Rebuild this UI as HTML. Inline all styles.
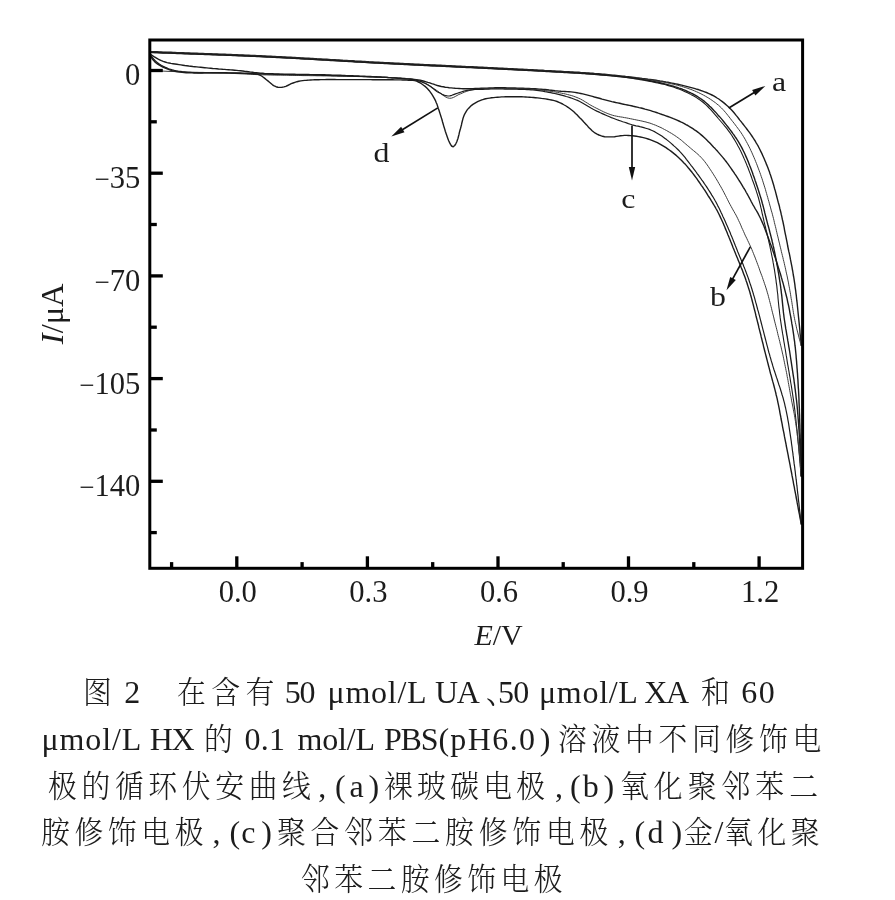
<!DOCTYPE html>
<html lang="zh"><head><meta charset="utf-8"><title>图 2</title>
<style>
html,body{margin:0;padding:0;background:#fff;}
html{filter:grayscale(1);}
body{width:895px;height:900px;position:relative;overflow:hidden;}
.ln{position:absolute;left:0;width:895px;height:46px;}
.s{position:absolute;top:0;white-space:nowrap;font-family:"Liberation Serif","Noto Serif CJK SC",serif;font-size:32px;line-height:46px;color:#1c1c1c;}
.s i{font-style:normal;font-size:31px;line-height:0;display:inline-block;transform:scaleX(0.93);transform-origin:0 50%;font-weight:300;}
</style></head><body>
<svg width="895" height="900" viewBox="0 0 895 900" style="position:absolute;left:0;top:0">
<defs><clipPath id="pc"><rect x="149.8" y="40.0" width="653.8" height="528.3"/></clipPath></defs>
<g fill="none" stroke="#1c1c1c" stroke-linecap="round" stroke-linejoin="round" clip-path="url(#pc)">
<path d="M151.0 51.6L153.0 51.7L155.0 51.8L157.0 51.8L159.0 51.9L161.0 52.0L163.0 52.1L165.0 52.1L167.0 52.2L169.0 52.3L171.0 52.3L173.0 52.4L175.0 52.5L177.0 52.6L179.0 52.6L181.0 52.7L183.0 52.8L185.0 52.9L187.0 52.9L189.0 53.0L191.0 53.1L193.0 53.1L195.0 53.2L197.0 53.3L199.0 53.4L201.0 53.4L203.0 53.5L205.0 53.6L207.0 53.6L209.0 53.7L211.0 53.8L213.0 53.9L215.0 53.9L217.0 54.0L219.0 54.1L221.0 54.2L223.0 54.2L225.0 54.3L226.9 54.4L228.9 54.5L230.9 54.5L232.9 54.6L234.9 54.7L236.9 54.8L238.9 54.9L240.9 54.9L242.9 55.0L244.9 55.1L246.9 55.2L248.9 55.3L250.9 55.4L252.9 55.5L254.9 55.5L256.9 55.6L258.9 55.7L260.9 55.8L262.9 55.9L264.9 56.0L266.9 56.1L268.9 56.2L270.9 56.3L272.9 56.4L274.9 56.5L276.9 56.6L278.9 56.7L280.9 56.8L282.9 56.9L284.9 57.0L286.9 57.1L288.9 57.2L290.9 57.3L292.9 57.4L294.9 57.5L296.9 57.6L298.9 57.7L300.9 57.9L302.9 58.0L304.9 58.1L306.9 58.2L308.9 58.3L310.9 58.4L312.8 58.5L314.8 58.6L316.8 58.8L318.8 58.9L320.8 59.0L322.8 59.1L324.8 59.2L326.8 59.3L328.8 59.4L330.8 59.6L332.8 59.7L334.8 59.8L336.8 59.9L338.8 60.0L340.8 60.1L342.8 60.3L344.8 60.4L346.8 60.5L348.8 60.6L350.8 60.7L352.8 60.8L354.8 61.0L356.8 61.1L358.8 61.2L360.8 61.3L362.8 61.4L364.8 61.5L366.8 61.6L368.8 61.8L370.8 61.9L372.7 62.0L374.7 62.1L376.7 62.2L378.7 62.3L380.7 62.4L382.7 62.5L384.7 62.6L386.7 62.7L388.7 62.8L390.7 62.9L392.7 63.0L394.7 63.1L396.7 63.2L398.7 63.3L400.7 63.4L402.7 63.5L404.7 63.6L406.7 63.7L408.7 63.8L410.7 63.9L412.7 64.0L414.7 64.1L416.7 64.2L418.7 64.3L420.7 64.4L422.7 64.5L424.7 64.6L426.7 64.7L428.7 64.8L430.7 64.9L432.7 65.0L434.7 65.0L436.7 65.1L438.7 65.2L440.7 65.3L442.7 65.4L444.7 65.5L446.7 65.6L448.7 65.7L450.7 65.8L452.7 65.9L454.7 66.0L456.6 66.1L458.6 66.2L460.6 66.3L462.6 66.4L464.6 66.5L466.6 66.6L468.6 66.6L470.6 66.7L472.6 66.8L474.6 66.9L476.6 67.0L478.6 67.1L480.6 67.2L482.6 67.3L484.6 67.4L486.6 67.5L488.6 67.6L490.6 67.7L492.6 67.8L494.6 67.9L496.6 68.0L498.6 68.1L500.6 68.2L502.6 68.3L504.6 68.4L506.6 68.5L508.6 68.6L510.6 68.7L512.6 68.8L514.6 68.9L516.6 69.0L518.6 69.1L520.6 69.2L522.6 69.3L524.6 69.4L526.6 69.5L528.6 69.6L530.6 69.7L532.6 69.8L534.6 69.9L536.6 70.0L538.5 70.1L540.5 70.2L542.5 70.3L544.5 70.5L546.5 70.6L548.5 70.7L550.5 70.8L552.5 70.9L554.5 71.0L556.5 71.1L558.5 71.2L560.5 71.3L562.5 71.4L564.5 71.6L566.5 71.7L568.5 71.8L570.5 71.9L572.5 72.0L574.5 72.1L576.5 72.2L578.5 72.3L580.5 72.5L582.5 72.6L584.5 72.7L586.5 72.9L588.5 73.0L590.5 73.2L592.5 73.3L594.4 73.5L596.4 73.6L598.4 73.8L600.4 74.0L602.4 74.2L604.4 74.3L606.4 74.5L608.4 74.7L610.4 74.9L612.4 75.1L614.4 75.3L616.4 75.5L618.3 75.7L620.3 75.9L622.3 76.1L624.3 76.3L626.3 76.6L628.3 76.8L630.3 77.0L632.3 77.2L634.2 77.4L636.2 77.7L638.2 77.9L640.2 78.1L642.2 78.4L644.2 78.6L646.2 78.9L648.1 79.2L650.1 79.4L652.1 79.7L654.1 80.0L656.1 80.3L658.0 80.6L660.0 81.0L662.0 81.3L663.9 81.6L665.9 82.0L667.9 82.3L669.8 82.7L671.8 83.1L673.8 83.5L675.7 83.9L677.7 84.3L679.6 84.7L681.6 85.1L683.5 85.6L685.5 86.1L687.4 86.6L689.4 87.1L691.3 87.6L693.2 88.1L695.1 88.7L697.0 89.3L699.0 89.8L700.9 90.5L702.7 91.1L704.6 91.8L706.5 92.5L708.3 93.3L710.1 94.1L711.9 95.0L713.7 95.9L715.4 96.9L717.1 98.0L718.8 99.0L720.4 100.2L722.0 101.4L723.6 102.6L725.1 103.9L726.6 105.2L728.1 106.5L729.5 107.9L730.9 109.3L732.3 110.8L733.6 112.3L734.9 113.8L736.1 115.4L737.4 116.9L738.6 118.5L739.8 120.1L741.1 121.6L742.3 123.2L743.6 124.8L744.8 126.4L746.0 127.9L747.2 129.5L748.4 131.1L749.6 132.7L750.8 134.4L751.9 136.0L753.0 137.7L754.1 139.3L755.2 141.0L756.2 142.8L757.2 144.5L758.2 146.2L759.1 148.0L760.0 149.8L760.9 151.6L761.8 153.4L762.6 155.2L763.4 157.0L764.2 158.8L765.0 160.7L765.8 162.5L766.5 164.4L767.3 166.2L768.0 168.1L768.7 170.0L769.4 171.8L770.0 173.7L770.7 175.6L771.3 177.5L771.9 179.4L772.5 181.3L773.1 183.2L773.7 185.2L774.2 187.1L774.7 189.0L775.3 190.9L775.8 192.9L776.3 194.8L776.8 196.7L777.3 198.7L777.8 200.6L778.3 202.5L778.9 204.5L779.4 206.4L779.8 208.4L780.3 210.3L780.8 212.2L781.2 214.2L781.7 216.1L782.1 218.1L782.5 220.0L783.0 222.0L783.4 224.0L783.8 225.9L784.2 227.9L784.5 229.8L784.9 231.8L785.3 233.8L785.7 235.7L786.1 237.7L786.5 239.6L786.9 241.6L787.3 243.6L787.6 245.5L788.0 247.5L788.4 249.5L788.8 251.4L789.3 253.4L789.7 255.3L790.1 257.3L790.4 259.2L790.8 261.2L791.2 263.2L791.6 265.1L792.0 267.1L792.3 269.1L792.7 271.0L793.0 273.0L793.3 275.0L793.7 277.0L794.0 278.9L794.3 280.9L794.6 282.9L794.9 284.9L795.1 286.8L795.4 288.8L795.7 290.8L795.9 292.8L796.2 294.8L796.4 296.8L796.6 298.8L796.8 300.7L797.1 302.7L797.3 304.7L797.5 306.7L797.7 308.7L797.9 310.7L798.1 312.7L798.3 314.7L798.5 316.7L798.7 318.6L798.9 320.6L799.1 322.6L799.3 324.6L799.5 326.6L799.7 328.6L799.9 330.6L800.0 332.6L800.2 334.6L800.4 336.6L800.6 338.6L800.8 340.5L800.9 342.5L801.1 344.5L801.2 345.5" stroke-width="1.4"/>
<path d="M151.0 51.9L153.0 52.0L155.0 52.1L157.0 52.1L159.0 52.2L161.0 52.3L163.0 52.4L165.0 52.4L167.0 52.5L169.0 52.6L171.0 52.6L173.0 52.7L175.0 52.8L177.0 52.9L179.0 52.9L181.0 53.0L183.0 53.1L185.0 53.2L187.0 53.2L189.0 53.3L191.0 53.4L193.0 53.4L195.0 53.5L197.0 53.6L199.0 53.7L201.0 53.7L203.0 53.8L205.0 53.9L207.0 53.9L209.0 54.0L211.0 54.1L213.0 54.2L215.0 54.2L217.0 54.3L219.0 54.4L221.0 54.5L223.0 54.5L225.0 54.6L226.9 54.7L228.9 54.8L230.9 54.8L232.9 54.9L234.9 55.0L236.9 55.1L238.9 55.2L240.9 55.2L242.9 55.3L244.9 55.4L246.9 55.5L248.9 55.6L250.9 55.7L252.9 55.8L254.9 55.8L256.9 55.9L258.9 56.0L260.9 56.1L262.9 56.2L264.9 56.3L266.9 56.4L268.9 56.5L270.9 56.6L272.9 56.7L274.9 56.8L276.9 56.9L278.9 57.0L280.9 57.1L282.9 57.2L284.9 57.3L286.9 57.4L288.9 57.5L290.9 57.6L292.9 57.7L294.9 57.8L296.9 57.9L298.9 58.0L300.9 58.2L302.9 58.3L304.9 58.4L306.9 58.5L308.9 58.6L310.9 58.7L312.8 58.8L314.8 58.9L316.8 59.1L318.8 59.2L320.8 59.3L322.8 59.4L324.8 59.5L326.8 59.6L328.8 59.7L330.8 59.9L332.8 60.0L334.8 60.1L336.8 60.2L338.8 60.3L340.8 60.4L342.8 60.6L344.8 60.7L346.8 60.8L348.8 60.9L350.8 61.0L352.8 61.1L354.8 61.3L356.8 61.4L358.8 61.5L360.8 61.6L362.8 61.7L364.8 61.8L366.8 61.9L368.8 62.1L370.8 62.2L372.7 62.3L374.7 62.4L376.7 62.5L378.7 62.6L380.7 62.7L382.7 62.8L384.7 62.9L386.7 63.0L388.7 63.1L390.7 63.2L392.7 63.3L394.7 63.4L396.7 63.5L398.7 63.6L400.7 63.7L402.7 63.8L404.7 63.9L406.7 64.0L408.7 64.1L410.7 64.2L412.7 64.3L414.7 64.4L416.7 64.5L418.7 64.6L420.7 64.7L422.7 64.8L424.7 64.9L426.7 65.0L428.7 65.1L430.7 65.2L432.7 65.3L434.7 65.3L436.7 65.4L438.7 65.5L440.7 65.6L442.7 65.7L444.7 65.8L446.7 65.9L448.7 66.0L450.7 66.1L452.7 66.2L454.7 66.3L456.6 66.4L458.6 66.5L460.6 66.6L462.6 66.7L464.6 66.8L466.6 66.9L468.6 66.9L470.6 67.0L472.6 67.1L474.6 67.2L476.6 67.3L478.6 67.4L480.6 67.5L482.6 67.6L484.6 67.7L486.6 67.8L488.6 67.9L490.6 68.0L492.6 68.1L494.6 68.2L496.6 68.3L498.6 68.4L500.6 68.5L502.6 68.6L504.6 68.7L506.6 68.8L508.6 68.9L510.6 69.0L512.6 69.1L514.6 69.2L516.6 69.3L518.6 69.4L520.6 69.5L522.6 69.6L524.6 69.7L526.6 69.8L528.6 69.9L530.6 70.0L532.6 70.1L534.6 70.2L536.6 70.3L538.5 70.4L540.5 70.5L542.5 70.6L544.5 70.8L546.5 70.9L548.5 71.0L550.5 71.1L552.5 71.2L554.5 71.3L556.5 71.4L558.5 71.5L560.5 71.6L562.5 71.7L564.5 71.9L566.5 72.0L568.5 72.1L570.5 72.2L572.5 72.3L574.5 72.4L576.5 72.5L578.5 72.6L580.5 72.8L582.5 72.9L584.5 73.0L586.5 73.2L588.5 73.3L590.5 73.5L592.5 73.6L594.4 73.8L596.4 73.9L598.4 74.1L600.4 74.3L602.4 74.5L604.4 74.6L606.4 74.8L608.4 75.0L610.4 75.2L612.4 75.4L614.4 75.6L616.4 75.8L618.3 76.0L620.3 76.2L622.3 76.4L624.3 76.6L626.3 76.9L628.3 77.1L630.3 77.3L632.3 77.5L634.2 77.8L636.2 78.0L638.2 78.3L640.2 78.5L642.2 78.8L644.2 79.1L646.1 79.3L648.1 79.6L650.1 79.9L652.1 80.2L654.1 80.5L656.0 80.9L658.0 81.2L660.0 81.5L661.9 81.9L663.9 82.2L665.9 82.6L667.8 83.0L669.8 83.4L671.7 83.9L673.7 84.3L675.6 84.8L677.6 85.3L679.5 85.8L681.4 86.3L683.3 86.9L685.2 87.5L687.1 88.1L689.0 88.8L690.9 89.4L692.8 90.2L694.6 90.9L696.4 91.7L698.3 92.5L700.1 93.4L701.9 94.3L703.6 95.2L705.4 96.2L707.1 97.2L708.8 98.2L710.5 99.3L712.1 100.4L713.8 101.6L715.4 102.7L716.9 104.0L718.5 105.2L720.0 106.6L721.4 107.9L722.8 109.4L724.1 110.8L725.4 112.3L726.7 113.9L727.9 115.4L729.2 117.0L730.4 118.6L731.6 120.2L732.8 121.7L734.1 123.3L735.3 124.9L736.5 126.5L737.7 128.1L738.9 129.7L740.1 131.3L741.2 132.9L742.3 134.6L743.3 136.3L744.4 138.0L745.4 139.8L746.3 141.5L747.3 143.3L748.2 145.0L749.1 146.8L750.0 148.6L750.8 150.4L751.7 152.2L752.5 154.1L753.3 155.9L754.1 157.7L754.9 159.6L755.6 161.4L756.4 163.3L757.1 165.1L757.8 167.0L758.5 168.9L759.2 170.7L759.9 172.6L760.6 174.5L761.2 176.4L761.9 178.3L762.5 180.2L763.1 182.1L763.7 184.0L764.3 185.9L764.9 187.8L765.5 189.7L766.0 191.7L766.6 193.6L767.1 195.5L767.7 197.4L768.2 199.4L768.8 201.3L769.3 203.2L769.8 205.1L770.4 207.1L770.9 209.0L771.4 210.9L772.0 212.8L772.5 214.8L773.0 216.7L773.5 218.6L774.0 220.6L774.4 222.5L774.9 224.5L775.4 226.4L775.9 228.4L776.3 230.3L776.8 232.3L777.2 234.2L777.7 236.1L778.2 238.1L778.6 240.0L779.1 242.0L779.6 243.9L780.0 245.9L780.5 247.8L781.0 249.8L781.4 251.7L781.9 253.6L782.4 255.6L782.9 257.5L783.3 259.5L783.8 261.4L784.3 263.4L784.7 265.3L785.2 267.3L785.6 269.2L786.0 271.2L786.4 273.1L786.9 275.1L787.3 277.0L787.7 279.0L788.1 281.0L788.5 282.9L788.8 284.9L789.2 286.8L789.6 288.8L789.9 290.8L790.3 292.8L790.6 294.7L790.9 296.7L791.2 298.7L791.6 300.6L791.9 302.6L792.2 304.6L792.5 306.6L792.8 308.6L793.1 310.5L793.4 312.5L793.8 314.5L794.1 316.4L794.5 318.4L794.9 320.4L795.3 322.3L795.8 324.3L796.2 326.2L796.6 328.2L797.1 330.1L797.6 332.1L798.1 334.0L798.6 335.9L799.1 337.9L799.6 339.8L800.1 341.7L800.7 343.6L801.2 345.5" stroke-width="1.0" stroke="#3c3c3c"/>
<path d="M151.0 52.3L153.0 52.4L155.0 52.5L157.0 52.5L159.0 52.6L161.0 52.7L163.0 52.8L165.0 52.8L167.0 52.9L169.0 53.0L171.0 53.0L173.0 53.1L175.0 53.2L177.0 53.3L179.0 53.3L181.0 53.4L183.0 53.5L185.0 53.6L187.0 53.6L189.0 53.7L191.0 53.8L193.0 53.8L195.0 53.9L197.0 54.0L199.0 54.1L201.0 54.1L203.0 54.2L205.0 54.3L207.0 54.3L209.0 54.4L211.0 54.5L213.0 54.6L215.0 54.6L217.0 54.7L219.0 54.8L221.0 54.9L223.0 54.9L225.0 55.0L226.9 55.1L228.9 55.2L230.9 55.2L232.9 55.3L234.9 55.4L236.9 55.5L238.9 55.6L240.9 55.6L242.9 55.7L244.9 55.8L246.9 55.9L248.9 56.0L250.9 56.1L252.9 56.2L254.9 56.2L256.9 56.3L258.9 56.4L260.9 56.5L262.9 56.6L264.9 56.7L266.9 56.8L268.9 56.9L270.9 57.0L272.9 57.1L274.9 57.2L276.9 57.3L278.9 57.4L280.9 57.5L282.9 57.6L284.9 57.7L286.9 57.8L288.9 57.9L290.9 58.0L292.9 58.1L294.9 58.2L296.9 58.3L298.9 58.4L300.9 58.6L302.9 58.7L304.9 58.8L306.9 58.9L308.9 59.0L310.9 59.1L312.8 59.2L314.8 59.3L316.8 59.5L318.8 59.6L320.8 59.7L322.8 59.8L324.8 59.9L326.8 60.0L328.8 60.1L330.8 60.3L332.8 60.4L334.8 60.5L336.8 60.6L338.8 60.7L340.8 60.8L342.8 61.0L344.8 61.1L346.8 61.2L348.8 61.3L350.8 61.4L352.8 61.5L354.8 61.7L356.8 61.8L358.8 61.9L360.8 62.0L362.8 62.1L364.8 62.2L366.8 62.3L368.8 62.5L370.8 62.6L372.7 62.7L374.7 62.8L376.7 62.9L378.7 63.0L380.7 63.1L382.7 63.2L384.7 63.3L386.7 63.4L388.7 63.5L390.7 63.6L392.7 63.7L394.7 63.8L396.7 63.9L398.7 64.0L400.7 64.1L402.7 64.2L404.7 64.3L406.7 64.4L408.7 64.5L410.7 64.6L412.7 64.7L414.7 64.8L416.7 64.9L418.7 65.0L420.7 65.1L422.7 65.2L424.7 65.3L426.7 65.4L428.7 65.5L430.7 65.6L432.7 65.7L434.7 65.7L436.7 65.8L438.7 65.9L440.7 66.0L442.7 66.1L444.7 66.2L446.7 66.3L448.7 66.4L450.7 66.5L452.7 66.6L454.7 66.7L456.6 66.8L458.6 66.9L460.6 67.0L462.6 67.1L464.6 67.2L466.6 67.3L468.6 67.3L470.6 67.4L472.6 67.5L474.6 67.6L476.6 67.7L478.6 67.8L480.6 67.9L482.6 68.0L484.6 68.1L486.6 68.2L488.6 68.3L490.6 68.4L492.6 68.5L494.6 68.6L496.6 68.7L498.6 68.8L500.6 68.9L502.6 69.0L504.6 69.1L506.6 69.2L508.6 69.3L510.6 69.4L512.6 69.5L514.6 69.6L516.6 69.7L518.6 69.8L520.6 69.9L522.6 70.0L524.6 70.1L526.6 70.2L528.6 70.3L530.6 70.4L532.6 70.5L534.6 70.6L536.6 70.7L538.5 70.8L540.5 70.9L542.5 71.0L544.5 71.2L546.5 71.3L548.5 71.4L550.5 71.5L552.5 71.6L554.5 71.7L556.5 71.8L558.5 71.9L560.5 72.0L562.5 72.1L564.5 72.3L566.5 72.4L568.5 72.5L570.5 72.6L572.5 72.7L574.5 72.8L576.5 72.9L578.5 73.0L580.5 73.2L582.5 73.3L584.5 73.4L586.5 73.6L588.5 73.7L590.5 73.9L592.5 74.0L594.4 74.2L596.4 74.3L598.4 74.5L600.4 74.7L602.4 74.8L604.4 75.0L606.4 75.2L608.4 75.4L610.4 75.6L612.4 75.7L614.4 75.9L616.4 76.1L618.3 76.3L620.3 76.6L622.3 76.8L624.3 77.0L626.3 77.2L628.3 77.5L630.3 77.7L632.3 78.0L634.2 78.2L636.2 78.5L638.2 78.8L640.2 79.1L642.1 79.4L644.1 79.8L646.1 80.1L648.1 80.5L650.0 80.8L652.0 81.2L654.0 81.5L655.9 81.9L657.9 82.3L659.8 82.7L661.8 83.2L663.7 83.6L665.7 84.1L667.6 84.6L669.5 85.1L671.5 85.7L673.4 86.2L675.3 86.8L677.2 87.4L679.1 88.1L681.0 88.7L682.8 89.5L684.7 90.2L686.5 91.0L688.3 91.8L690.2 92.6L691.9 93.5L693.7 94.4L695.5 95.4L697.2 96.4L698.9 97.5L700.5 98.6L702.2 99.7L703.8 100.9L705.3 102.2L706.8 103.5L708.3 104.8L709.7 106.2L711.2 107.6L712.5 109.0L713.9 110.5L715.3 111.9L716.6 113.4L717.9 114.9L719.3 116.4L720.6 117.9L721.9 119.4L723.2 121.0L724.4 122.5L725.7 124.1L726.9 125.6L728.2 127.2L729.4 128.8L730.6 130.4L731.8 132.0L732.9 133.6L734.1 135.2L735.2 136.9L736.4 138.5L737.4 140.2L738.5 141.9L739.5 143.6L740.5 145.4L741.5 147.1L742.4 148.9L743.3 150.7L744.2 152.5L745.0 154.3L745.8 156.1L746.6 157.9L747.4 159.8L748.2 161.6L748.9 163.5L749.6 165.3L750.4 167.2L751.1 169.1L751.8 170.9L752.5 172.8L753.1 174.7L753.8 176.6L754.5 178.5L755.1 180.4L755.8 182.3L756.4 184.2L757.0 186.1L757.7 188.0L758.3 189.9L758.9 191.8L759.5 193.7L760.1 195.6L760.7 197.5L761.3 199.4L761.8 201.3L762.3 203.2L762.9 205.2L763.4 207.1L763.9 209.1L764.4 211.0L764.8 212.9L765.3 214.9L765.8 216.8L766.3 218.7L766.8 220.7L767.3 222.6L767.8 224.5L768.4 226.5L768.9 228.4L769.4 230.3L769.9 232.3L770.4 234.2L770.9 236.1L771.4 238.1L771.9 240.0L772.3 242.0L772.8 243.9L773.2 245.9L773.7 247.8L774.1 249.8L774.5 251.7L774.9 253.7L775.3 255.7L775.7 257.6L776.1 259.6L776.5 261.5L776.8 263.5L777.2 265.5L777.6 267.4L777.9 269.4L778.2 271.4L778.6 273.4L778.9 275.3L779.2 277.3L779.5 279.3L779.8 281.3L780.1 283.2L780.4 285.2L780.7 287.2L780.9 289.2L781.2 291.2L781.4 293.1L781.7 295.1L781.9 297.1L782.1 299.1L782.3 301.1L782.5 303.1L782.7 305.1L782.9 307.1L783.1 309.1L783.3 311.0L783.5 313.0L783.8 315.0L784.0 317.0L784.3 319.0L784.6 321.0L784.9 322.9L785.2 324.9L785.5 326.9L785.8 328.9L786.2 330.8L786.5 332.8L786.8 334.8L787.2 336.7L787.5 338.7L787.8 340.7L788.2 342.7L788.5 344.6L788.8 346.6L789.2 348.6L789.5 350.6L789.8 352.5L790.1 354.5L790.4 356.5L790.7 358.5L791.0 360.4L791.3 362.4L791.6 364.4L791.9 366.4L792.2 368.3L792.5 370.3L792.8 372.3L793.1 374.3L793.4 376.3L793.7 378.2L794.0 380.2L794.2 382.2L794.5 384.2L794.8 386.2L795.0 388.1L795.3 390.1L795.5 392.1L795.8 394.1L796.0 396.1L796.2 398.1L796.5 400.1L796.7 402.0L796.9 404.0L797.1 406.0L797.3 408.0L797.5 410.0L797.6 412.0L797.8 414.0L798.0 416.0L798.1 418.0L798.3 420.0L798.4 422.0L798.6 424.0L798.7 426.0L798.8 428.0L799.0 429.9L799.1 431.9L799.2 433.9L799.3 435.9L799.4 437.9L799.6 439.9L799.7 441.9L799.8 443.9L799.9 445.9L800.0 447.9L800.0 449.9L800.1 451.9L800.2 453.9L800.3 455.9L800.4 457.9L800.5 459.9L800.6 461.9L800.7 463.9L800.7 465.9L800.8 467.9L800.9 469.9L801.0 471.9L801.1 473.9L801.2 475.9L801.2 476.0" stroke-width="1.4"/>
<path d="M151.0 52.6L153.0 52.7L155.0 52.8L157.0 52.8L159.0 52.9L161.0 53.0L163.0 53.1L165.0 53.1L167.0 53.2L169.0 53.3L171.0 53.3L173.0 53.4L175.0 53.5L177.0 53.6L179.0 53.6L181.0 53.7L183.0 53.8L185.0 53.9L187.0 53.9L189.0 54.0L191.0 54.1L193.0 54.1L195.0 54.2L197.0 54.3L199.0 54.4L201.0 54.4L203.0 54.5L205.0 54.6L207.0 54.6L209.0 54.7L211.0 54.8L213.0 54.9L215.0 54.9L217.0 55.0L219.0 55.1L221.0 55.2L223.0 55.2L225.0 55.3L226.9 55.4L228.9 55.5L230.9 55.5L232.9 55.6L234.9 55.7L236.9 55.8L238.9 55.9L240.9 55.9L242.9 56.0L244.9 56.1L246.9 56.2L248.9 56.3L250.9 56.4L252.9 56.5L254.9 56.5L256.9 56.6L258.9 56.7L260.9 56.8L262.9 56.9L264.9 57.0L266.9 57.1L268.9 57.2L270.9 57.3L272.9 57.4L274.9 57.5L276.9 57.6L278.9 57.7L280.9 57.8L282.9 57.9L284.9 58.0L286.9 58.1L288.9 58.2L290.9 58.3L292.9 58.4L294.9 58.5L296.9 58.6L298.9 58.7L300.9 58.9L302.9 59.0L304.9 59.1L306.9 59.2L308.9 59.3L310.9 59.4L312.8 59.5L314.8 59.6L316.8 59.8L318.8 59.9L320.8 60.0L322.8 60.1L324.8 60.2L326.8 60.3L328.8 60.4L330.8 60.6L332.8 60.7L334.8 60.8L336.8 60.9L338.8 61.0L340.8 61.1L342.8 61.3L344.8 61.4L346.8 61.5L348.8 61.6L350.8 61.7L352.8 61.8L354.8 62.0L356.8 62.1L358.8 62.2L360.8 62.3L362.8 62.4L364.8 62.5L366.8 62.6L368.8 62.8L370.8 62.9L372.7 63.0L374.7 63.1L376.7 63.2L378.7 63.3L380.7 63.4L382.7 63.5L384.7 63.6L386.7 63.7L388.7 63.8L390.7 63.9L392.7 64.0L394.7 64.1L396.7 64.2L398.7 64.3L400.7 64.4L402.7 64.5L404.7 64.6L406.7 64.7L408.7 64.8L410.7 64.9L412.7 65.0L414.7 65.1L416.7 65.2L418.7 65.3L420.7 65.4L422.7 65.5L424.7 65.6L426.7 65.7L428.7 65.8L430.7 65.9L432.7 66.0L434.7 66.0L436.7 66.1L438.7 66.2L440.7 66.3L442.7 66.4L444.7 66.5L446.7 66.6L448.7 66.7L450.7 66.8L452.7 66.9L454.7 67.0L456.6 67.1L458.6 67.2L460.6 67.3L462.6 67.4L464.6 67.5L466.6 67.6L468.6 67.6L470.6 67.7L472.6 67.8L474.6 67.9L476.6 68.0L478.6 68.1L480.6 68.2L482.6 68.3L484.6 68.4L486.6 68.5L488.6 68.6L490.6 68.7L492.6 68.8L494.6 68.9L496.6 69.0L498.6 69.1L500.6 69.2L502.6 69.3L504.6 69.4L506.6 69.5L508.6 69.6L510.6 69.7L512.6 69.8L514.6 69.9L516.6 70.0L518.6 70.1L520.6 70.2L522.6 70.3L524.6 70.4L526.6 70.5L528.6 70.6L530.6 70.7L532.6 70.8L534.6 70.9L536.6 71.0L538.5 71.1L540.5 71.2L542.5 71.3L544.5 71.5L546.5 71.6L548.5 71.7L550.5 71.8L552.5 71.9L554.5 72.0L556.5 72.1L558.5 72.2L560.5 72.3L562.5 72.4L564.5 72.6L566.5 72.7L568.5 72.8L570.5 72.9L572.5 73.0L574.5 73.1L576.5 73.2L578.5 73.3L580.5 73.5L582.5 73.6L584.5 73.7L586.5 73.9L588.5 74.0L590.5 74.2L592.5 74.3L594.4 74.5L596.4 74.6L598.4 74.8L600.4 75.0L602.4 75.1L604.4 75.3L606.4 75.5L608.4 75.7L610.4 75.8L612.4 76.0L614.4 76.2L616.4 76.4L618.4 76.6L620.3 76.8L622.3 77.0L624.3 77.3L626.3 77.5L628.3 77.8L630.3 78.0L632.2 78.3L634.2 78.6L636.2 78.9L638.2 79.2L640.1 79.6L642.1 79.9L644.1 80.3L646.0 80.6L648.0 81.0L650.0 81.4L651.9 81.8L653.9 82.2L655.9 82.6L657.8 83.0L659.8 83.4L661.7 83.9L663.7 84.3L665.6 84.8L667.5 85.4L669.4 85.9L671.4 86.5L673.3 87.1L675.2 87.7L677.0 88.4L678.9 89.1L680.8 89.8L682.6 90.6L684.5 91.4L686.3 92.2L688.1 93.1L689.9 93.9L691.6 94.9L693.4 95.8L695.1 96.8L696.8 97.9L698.5 99.0L700.1 100.1L701.7 101.3L703.3 102.5L704.8 103.8L706.3 105.2L707.7 106.5L709.1 108.0L710.5 109.4L711.8 110.9L713.1 112.4L714.4 113.9L715.7 115.4L717.0 116.9L718.3 118.5L719.6 120.0L720.9 121.5L722.2 123.0L723.5 124.5L724.8 126.1L726.1 127.6L727.3 129.2L728.5 130.8L729.7 132.4L730.8 134.0L732.0 135.7L733.0 137.4L734.1 139.1L735.1 140.8L736.1 142.5L737.1 144.2L738.0 146.0L739.0 147.8L739.9 149.6L740.8 151.3L741.6 153.1L742.5 154.9L743.3 156.8L744.1 158.6L744.9 160.4L745.7 162.3L746.5 164.1L747.2 166.0L748.0 167.8L748.7 169.7L749.4 171.6L750.1 173.4L750.8 175.3L751.5 177.2L752.1 179.1L752.8 181.0L753.5 182.8L754.2 184.7L754.8 186.6L755.5 188.5L756.1 190.4L756.7 192.3L757.3 194.2L757.9 196.1L758.5 198.0L759.0 200.0L759.5 201.9L760.0 203.8L760.5 205.8L760.9 207.7L761.4 209.7L761.8 211.6L762.2 213.6L762.7 215.5L763.1 217.5L763.6 219.4L764.0 221.4L764.5 223.3L765.0 225.3L765.5 227.2L765.9 229.1L766.4 231.1L766.9 233.0L767.3 235.0L767.8 236.9L768.2 238.9L768.7 240.8L769.1 242.8L769.6 244.7L770.0 246.7L770.4 248.6L770.8 250.6L771.2 252.5L771.6 254.5L772.0 256.5L772.4 258.4L772.8 260.4L773.1 262.4L773.5 264.3L773.8 266.3L774.2 268.3L774.5 270.2L774.8 272.2L775.1 274.2L775.4 276.2L775.7 278.2L776.0 280.1L776.2 282.1L776.5 284.1L776.8 286.1L777.0 288.1L777.2 290.1L777.4 292.0L777.7 294.0L777.9 296.0L778.0 298.0L778.2 300.0L778.4 302.0L778.6 304.0L778.8 306.0L779.0 308.0L779.3 309.9L779.5 311.9L779.7 313.9L780.0 315.9L780.2 317.9L780.5 319.9L780.8 321.8L781.1 323.8L781.4 325.8L781.7 327.8L782.0 329.8L782.3 331.7L782.6 333.7L783.0 335.7L783.3 337.6L783.6 339.6L783.9 341.6L784.3 343.6L784.6 345.5L784.9 347.5L785.3 349.5L785.6 351.5L785.9 353.4L786.2 355.4L786.6 357.4L786.9 359.4L787.2 361.3L787.5 363.3L787.9 365.3L788.2 367.2L788.5 369.2L788.9 371.2L789.2 373.2L789.5 375.1L789.9 377.1L790.2 379.1L790.5 381.1L790.8 383.0L791.2 385.0L791.5 387.0L791.8 388.9L792.1 390.9L792.4 392.9L792.7 394.9L793.0 396.9L793.3 398.8L793.6 400.8L793.9 402.8L794.1 404.8L794.4 406.8L794.6 408.7L794.9 410.7L795.1 412.7L795.3 414.7L795.6 416.7L795.8 418.7L796.0 420.7L796.2 422.7L796.4 424.6L796.6 426.6L796.8 428.6L797.1 430.6L797.3 432.6L797.4 434.6L797.6 436.6L797.8 438.6L798.0 440.6L798.2 442.6L798.4 444.5L798.6 446.5L798.8 448.5L798.9 450.5L799.1 452.5L799.3 454.5L799.5 456.5L799.6 458.5L799.8 460.5L800.0 462.5L800.2 464.5L800.3 466.5L800.5 468.4L800.7 470.4L800.9 472.4L801.1 474.4L801.2 476.0" stroke-width="1.1"/>
<path d="M151.0 54.7L152.7 55.8L154.4 56.9L156.1 57.9L157.8 58.9L159.6 59.8L161.4 60.7L163.2 61.4L165.1 62.0L167.1 62.6L169.0 63.0L171.0 63.4L173.0 63.7L174.9 64.0L176.9 64.3L178.9 64.6L180.9 64.9L182.9 65.2L184.8 65.5L186.8 65.7L188.8 66.0L190.8 66.2L192.8 66.5L194.8 66.7L196.7 66.9L198.7 67.1L200.7 67.3L202.7 67.5L204.7 67.7L206.7 67.9L208.7 68.1L210.7 68.3L212.7 68.5L214.7 68.6L216.7 68.8L218.6 69.0L220.6 69.1L222.6 69.3L224.6 69.4L226.6 69.6L228.6 69.7L230.6 69.9L232.6 70.0L234.6 70.2L236.6 70.4L238.6 70.6L240.6 70.8L242.6 71.0L244.5 71.3L246.5 71.5L248.5 71.8L250.5 72.1L252.5 72.3L254.5 72.6L256.4 72.8L258.4 73.0L260.4 73.2L262.4 73.3L264.4 73.5L266.4 73.6L268.4 73.7L270.4 73.8L272.4 73.8L274.4 73.9L276.4 74.0L278.4 74.0L280.4 74.1L282.4 74.1L284.4 74.2L286.4 74.2L288.4 74.2L290.4 74.3L292.4 74.3L294.4 74.3L296.4 74.4L298.4 74.4L300.4 74.4L302.4 74.5L304.4 74.5L306.4 74.5L308.4 74.5L310.4 74.6L312.4 74.6L314.4 74.6L316.4 74.7L318.4 74.7L320.4 74.8L322.4 74.8L324.4 74.8L326.4 74.9L328.4 75.0L330.4 75.0L332.4 75.1L334.4 75.1L336.4 75.2L338.4 75.3L340.4 75.3L342.4 75.4L344.4 75.5L346.4 75.6L348.4 75.6L350.4 75.7L352.4 75.8L354.4 75.9L356.4 75.9L358.4 76.0L360.4 76.1L362.4 76.2L364.4 76.3L366.4 76.4L368.4 76.4L370.4 76.5L372.4 76.6L374.4 76.7L376.4 76.8L378.4 76.9L380.4 77.0L382.4 77.1L384.3 77.2L386.3 77.3L388.3 77.5L390.3 77.6L392.3 77.7L394.3 77.8L396.3 77.9L398.3 78.1L400.3 78.2L402.3 78.4L404.3 78.5L406.3 78.7L408.3 78.9L410.3 79.0L412.3 79.2L414.3 79.4L416.3 79.6L418.2 79.9L420.2 80.2L422.2 80.7L424.1 81.2L426.0 81.8L427.9 82.4L429.8 82.9L431.7 83.6L433.6 84.2L435.5 84.9L437.4 85.5L439.3 86.0L441.3 86.5L443.3 86.8L445.2 87.2L447.2 87.4L449.2 87.7L451.2 87.9L453.2 88.1L455.2 88.3L457.2 88.4L459.2 88.5L461.1 88.6L463.1 88.7L465.1 88.7L467.1 88.7L469.1 88.7L471.1 88.7L473.1 88.6L475.1 88.5L477.1 88.5L479.1 88.4L481.1 88.3L483.1 88.2L485.1 88.1L487.1 88.1L489.1 88.0L491.1 87.9L493.1 87.9L495.1 87.8L497.1 87.8L499.1 87.8L501.1 87.8L503.1 87.8L505.1 87.8L507.1 87.9L509.1 87.9L511.1 88.0L513.1 88.0L515.1 88.0L517.1 88.1L519.1 88.2L521.1 88.2L523.1 88.3L525.1 88.4L527.1 88.5L529.1 88.5L531.1 88.6L533.1 88.7L535.1 88.8L537.1 88.9L539.1 89.1L541.1 89.2L543.1 89.4L545.1 89.5L547.1 89.7L549.1 90.0L551.1 90.2L553.0 90.4L555.0 90.7L557.0 90.9L559.0 91.1L561.0 91.3L563.0 91.4L565.0 91.5L567.0 91.6L569.0 91.7L571.0 91.9L573.0 92.1L574.9 92.4L576.9 92.7L578.9 93.1L580.8 93.5L582.8 93.9L584.7 94.4L586.7 94.9L588.6 95.4L590.5 95.9L592.5 96.4L594.4 97.0L596.3 97.5L598.3 98.0L600.2 98.5L602.1 99.1L604.0 99.6L606.0 100.1L607.9 100.6L609.9 101.1L611.8 101.6L613.7 102.0L615.7 102.5L617.6 102.9L619.6 103.3L621.6 103.8L623.5 104.2L625.5 104.6L627.4 105.0L629.4 105.4L631.3 105.8L633.3 106.3L635.2 106.7L637.2 107.1L639.1 107.6L641.1 108.0L643.0 108.5L645.0 109.1L646.9 109.6L648.8 110.1L650.7 110.7L652.6 111.3L654.5 111.9L656.4 112.5L658.3 113.2L660.2 113.8L662.1 114.5L664.0 115.1L665.9 115.8L667.8 116.5L669.6 117.2L671.5 117.9L673.4 118.7L675.2 119.4L677.0 120.2L678.9 121.0L680.7 121.9L682.5 122.7L684.3 123.6L686.0 124.6L687.8 125.5L689.5 126.6L691.2 127.6L692.9 128.7L694.5 129.8L696.2 130.9L697.8 132.1L699.3 133.3L700.9 134.6L702.4 135.9L703.9 137.2L705.3 138.6L706.8 140.0L708.2 141.4L709.6 142.8L711.0 144.3L712.3 145.7L713.7 147.2L715.1 148.6L716.4 150.1L717.8 151.6L719.1 153.1L720.4 154.6L721.7 156.1L723.0 157.6L724.3 159.2L725.5 160.8L726.7 162.3L727.9 163.9L729.1 165.6L730.2 167.2L731.4 168.8L732.5 170.5L733.7 172.1L734.8 173.8L735.9 175.4L737.0 177.1L738.1 178.8L739.1 180.5L740.2 182.2L741.3 183.9L742.3 185.6L743.3 187.3L744.4 189.0L745.4 190.7L746.3 192.5L747.3 194.2L748.3 196.0L749.2 197.7L750.2 199.5L751.1 201.3L752.0 203.0L753.0 204.8L754.0 206.5L755.0 208.3L756.0 210.0L757.0 211.7L758.0 213.4L758.9 215.2L759.8 217.0L760.7 218.8L761.5 220.6L762.3 222.4L763.1 224.2L763.9 226.1L764.6 228.0L765.3 229.8L766.0 231.7L766.7 233.6L767.4 235.4L768.1 237.3L768.8 239.2L769.5 241.1L770.1 243.0L770.8 244.8L771.5 246.7L772.2 248.6L772.8 250.5L773.5 252.4L774.1 254.3L774.7 256.2L775.4 258.1L776.0 260.0L776.6 261.9L777.2 263.8L777.8 265.7L778.4 267.6L779.0 269.5L779.6 271.4L780.2 273.3L780.8 275.2L781.3 277.2L781.9 279.1L782.4 281.0L783.0 282.9L783.5 284.9L784.0 286.8L784.5 288.7L785.0 290.7L785.5 292.6L786.0 294.5L786.5 296.5L787.0 298.4L787.4 300.4L787.8 302.3L788.3 304.3L788.7 306.2L789.1 308.2L789.5 310.2L789.8 312.1L790.2 314.1L790.6 316.1L790.9 318.0L791.3 320.0L791.6 322.0L791.9 323.9L792.3 325.9L792.6 327.9L792.9 329.9L793.2 331.8L793.5 333.8L793.8 335.8L794.0 337.8L794.3 339.8L794.6 341.7L794.8 343.7L795.0 345.7L795.3 347.7L795.5 349.7L795.7 351.7L795.9 353.7L796.1 355.7L796.2 357.7L796.4 359.6L796.6 361.6L796.7 363.6L796.9 365.6L797.0 367.6L797.2 369.6L797.3 371.6L797.5 373.6L797.6 375.6L797.7 377.6L797.9 379.6L798.0 381.6L798.1 383.6L798.2 385.6L798.3 387.6L798.5 389.6L798.6 391.6L798.7 393.6L798.8 395.6L798.9 397.6L799.0 399.6L799.0 401.6L799.1 403.6L799.2 405.6L799.3 407.6L799.4 409.6L799.4 411.6L799.5 413.6L799.6 415.6L799.6 417.5L799.7 419.5L799.7 421.5L799.8 423.5L799.9 425.5L799.9 427.5L800.0 429.5L800.0 431.5L800.1 433.5L800.2 435.5L800.2 437.5L800.3 439.5L800.3 441.5L800.4 443.5L800.4 445.5L800.5 447.5L800.5 449.5L800.6 451.5L800.6 453.5L800.7 455.5L800.7 457.5L800.8 459.5L800.8 461.5L800.9 463.5L800.9 465.5L801.0 467.5L801.0 469.5L801.1 471.5L801.1 473.5L801.2 475.5L801.2 476.0" stroke-width="1.4"/>
<path d="M151.0 70.6L153.0 70.7L155.0 70.8L157.0 70.9L159.0 70.9L161.0 71.0L163.0 71.1L165.0 71.2L167.0 71.3L169.0 71.4L171.0 71.5L173.0 71.5L175.0 71.6L177.0 71.7L179.0 71.8L181.0 71.9L183.0 71.9L185.0 72.0L187.0 72.1L189.0 72.1L191.0 72.2L193.0 72.2L195.0 72.3L197.0 72.3L199.0 72.4L201.0 72.4L203.0 72.4L205.0 72.5L207.0 72.5L209.0 72.6L211.0 72.6L213.0 72.7L215.0 72.7L217.0 72.7L219.0 72.8L221.0 72.9L223.0 72.9L225.0 73.0L227.0 73.1L229.0 73.2L231.0 73.3L233.0 73.4L234.9 73.5L236.9 73.6L238.9 73.7L240.9 73.8L242.9 73.9L244.9 74.0L246.9 74.1L248.9 74.2L250.9 74.3L252.9 74.4L254.9 74.5L256.9 74.6L258.9 74.7L260.9 74.8L262.9 74.8L264.9 74.9L266.9 74.9L268.9 75.0L270.9 75.0L272.9 75.1L274.9 75.1L276.9 75.2L278.9 75.2L280.9 75.2L282.9 75.3L284.9 75.3L286.9 75.3L288.9 75.4L290.9 75.4L292.9 75.4L294.9 75.5L296.9 75.5L298.9 75.5L300.9 75.5L302.9 75.6L304.9 75.6L306.9 75.6L308.9 75.6L310.9 75.7L312.9 75.7L314.9 75.7L316.9 75.8L318.9 75.8L320.9 75.8L322.9 75.9L324.9 75.9L326.9 75.9L328.9 76.0L330.9 76.0L332.9 76.1L334.9 76.1L336.9 76.1L338.9 76.2L340.9 76.2L342.9 76.3L344.9 76.3L346.9 76.3L348.9 76.4L350.9 76.4L352.9 76.5L354.9 76.5L356.9 76.5L358.9 76.6L360.9 76.6L362.9 76.7L364.9 76.7L366.9 76.8L368.9 76.8L370.9 76.9L372.9 76.9L374.9 77.0L376.9 77.0L378.9 77.1L380.9 77.2L382.9 77.3L384.9 77.3L386.9 77.4L388.9 77.5L390.9 77.6L392.9 77.8L394.9 77.9L396.9 78.0L398.9 78.1L400.9 78.2L402.9 78.4L404.8 78.5L406.8 78.7L408.8 78.9L410.8 79.1L412.8 79.4L414.8 79.8L416.7 80.2L418.7 80.6L420.6 81.2L422.5 81.9L424.3 82.7L426.1 83.6L427.8 84.5L429.5 85.6L431.2 86.7L432.8 87.9L434.5 89.0L436.2 90.1L437.8 91.2L439.4 92.5L441.0 93.7L442.5 94.9L444.2 96.1L445.9 97.1L447.7 97.9L449.7 98.3L451.6 98.1L453.5 97.4L455.3 96.5L457.0 95.5L458.8 94.5L460.6 93.8L462.5 93.0L464.3 92.2L466.2 91.5L468.1 90.9L470.0 90.3L472.0 89.9L473.9 89.6L475.9 89.4L477.9 89.2L479.9 89.1L481.9 89.0L483.9 88.9L485.9 88.8L487.9 88.7L489.9 88.6L491.9 88.6L493.9 88.6L495.9 88.6L497.9 88.6L499.9 88.6L501.9 88.6L503.9 88.6L505.9 88.6L507.9 88.6L509.9 88.6L511.9 88.7L513.9 88.7L515.9 88.7L517.9 88.7L519.9 88.7L521.9 88.8L523.9 88.9L525.9 88.9L527.9 89.0L529.9 89.1L531.9 89.2L533.9 89.3L535.9 89.5L537.9 89.7L539.9 89.9L541.8 90.1L543.8 90.4L545.8 90.6L547.8 90.9L549.8 91.2L551.8 91.5L553.7 91.8L555.7 92.1L557.7 92.4L559.6 92.8L561.6 93.2L563.6 93.6L565.5 94.0L567.5 94.5L569.4 95.0L571.3 95.5L573.2 96.1L575.1 96.8L577.0 97.5L578.8 98.3L580.6 99.1L582.4 100.1L584.1 101.1L585.8 102.2L587.5 103.2L589.2 104.3L590.9 105.3L592.7 106.3L594.4 107.2L596.2 108.1L598.0 109.0L599.8 109.9L601.6 110.8L603.4 111.7L605.2 112.5L607.1 113.3L608.9 114.0L610.8 114.7L612.7 115.3L614.6 115.8L616.6 116.2L618.6 116.6L620.5 116.9L622.5 117.2L624.5 117.6L626.5 117.9L628.4 118.3L630.4 118.7L632.3 119.1L634.3 119.5L636.2 119.9L638.2 120.3L640.2 120.7L642.1 121.1L644.1 121.6L646.0 122.0L647.9 122.6L649.9 123.1L651.8 123.8L653.6 124.5L655.5 125.2L657.3 126.0L659.1 126.8L661.0 127.6L662.7 128.5L664.5 129.5L666.3 130.4L668.0 131.4L669.7 132.4L671.5 133.4L673.2 134.5L674.8 135.5L676.5 136.7L678.1 137.8L679.7 139.0L681.3 140.2L682.8 141.5L684.3 142.8L685.8 144.1L687.3 145.4L688.9 146.7L690.4 148.0L691.9 149.3L693.5 150.6L695.0 151.8L696.5 153.1L698.0 154.4L699.5 155.8L700.9 157.2L702.2 158.6L703.5 160.1L704.8 161.7L706.0 163.3L707.2 164.9L708.3 166.5L709.4 168.2L710.5 169.8L711.6 171.5L712.7 173.2L713.8 174.9L714.8 176.6L715.9 178.3L716.9 180.0L717.9 181.7L718.9 183.5L719.9 185.2L720.9 186.9L721.9 188.7L722.8 190.4L723.8 192.2L724.7 194.0L725.6 195.7L726.5 197.5L727.4 199.3L728.3 201.1L729.2 202.9L730.2 204.7L731.1 206.4L732.1 208.2L733.0 209.9L734.0 211.6L735.0 213.4L736.0 215.1L736.9 216.9L737.8 218.7L738.6 220.5L739.5 222.3L740.3 224.1L741.1 225.9L741.8 227.8L742.7 229.6L743.5 231.4L744.3 233.2L745.1 235.1L746.0 236.9L746.9 238.7L747.7 240.5L748.6 242.3L749.4 244.1L750.3 245.9L751.1 247.7L751.9 249.6L752.6 251.4L753.4 253.3L754.1 255.1L754.9 257.0L755.6 258.9L756.3 260.7L757.0 262.6L757.7 264.5L758.4 266.3L759.1 268.2L759.7 270.1L760.4 272.0L761.1 273.9L761.8 275.7L762.5 277.6L763.1 279.5L763.8 281.4L764.4 283.3L765.1 285.2L765.7 287.1L766.3 289.0L766.9 290.9L767.4 292.8L768.0 294.7L768.5 296.7L769.0 298.6L769.5 300.5L770.0 302.5L770.5 304.4L771.0 306.4L771.5 308.3L771.9 310.2L772.4 312.2L772.9 314.1L773.4 316.1L773.9 318.0L774.3 320.0L774.8 321.9L775.3 323.8L775.8 325.8L776.3 327.7L776.8 329.7L777.3 331.6L777.7 333.5L778.2 335.5L778.7 337.4L779.2 339.4L779.7 341.3L780.1 343.2L780.6 345.2L781.1 347.1L781.5 349.1L782.0 351.0L782.4 353.0L782.9 354.9L783.3 356.9L783.7 358.8L784.1 360.8L784.5 362.8L784.9 364.7L785.3 366.7L785.7 368.6L786.1 370.6L786.5 372.6L786.9 374.5L787.2 376.5L787.6 378.5L788.0 380.4L788.3 382.4L788.7 384.4L789.0 386.3L789.4 388.3L789.7 390.3L790.1 392.2L790.4 394.2L790.8 396.2L791.2 398.1L791.5 400.1L791.9 402.1L792.3 404.0L792.7 406.0L793.1 408.0L793.4 409.9L793.8 411.9L794.2 413.8L794.5 415.8L794.9 417.8L795.2 419.8L795.5 421.7L795.8 423.7L796.1 425.7L796.4 427.7L796.7 429.7L796.9 431.6L797.2 433.6L797.4 435.6L797.6 437.6L797.9 439.6L798.1 441.6L798.3 443.5L798.5 445.5L798.7 447.5L798.9 449.5L799.1 451.5L799.3 453.5L799.5 455.5L799.7 457.5L799.8 459.5L800.0 461.5L800.2 463.5L800.3 465.5L800.5 467.4L800.7 469.4L800.8 471.4L801.0 473.4L801.1 475.3L801.2 476.0" stroke-width="1.0" stroke="#3c3c3c"/>
<path d="M151.0 56.0L152.3 57.5L153.6 59.0L155.0 60.5L156.4 61.8L158.0 63.1L159.6 64.3L161.3 65.3L163.1 66.2L164.9 67.1L166.7 67.9L168.6 68.7L170.5 69.3L172.4 69.9L174.3 70.4L176.3 70.8L178.3 71.2L180.2 71.4L182.2 71.7L184.2 71.9L186.2 72.1L188.2 72.3L190.2 72.4L192.2 72.5L194.2 72.6L196.2 72.7L198.2 72.8L200.2 72.8L202.2 72.8L204.2 72.8L206.2 72.8L208.2 72.8L210.2 72.8L212.2 72.8L214.2 72.8L216.2 72.8L218.2 72.8L220.2 72.8L222.2 72.9L224.2 72.9L226.2 72.9L228.2 73.0L230.2 73.0L232.2 73.1L234.2 73.1L236.2 73.2L238.2 73.3L240.2 73.3L242.2 73.4L244.2 73.5L246.2 73.5L248.2 73.6L250.2 73.7L252.2 73.7L254.2 73.8L256.2 73.8L258.2 73.9L260.2 74.0L262.2 74.0L264.2 74.1L266.2 74.1L268.2 74.1L270.2 74.2L272.2 74.2L274.2 74.3L276.2 74.3L278.2 74.4L280.2 74.4L282.2 74.4L284.2 74.5L286.2 74.5L288.2 74.5L290.2 74.6L292.2 74.6L294.2 74.7L296.2 74.7L298.2 74.7L300.2 74.8L302.2 74.8L304.2 74.9L306.2 74.9L308.1 74.9L310.1 75.0L312.1 75.0L314.1 75.1L316.1 75.1L318.1 75.2L320.1 75.2L322.1 75.3L324.1 75.3L326.1 75.4L328.1 75.4L330.1 75.5L332.1 75.6L334.1 75.6L336.1 75.7L338.1 75.8L340.1 75.8L342.1 75.9L344.1 75.9L346.1 76.0L348.1 76.1L350.1 76.1L352.1 76.2L354.1 76.3L356.1 76.3L358.1 76.4L360.1 76.5L362.1 76.5L364.1 76.6L366.1 76.7L368.1 76.8L370.1 76.8L372.1 76.9L374.1 77.0L376.1 77.1L378.1 77.2L380.1 77.2L382.1 77.3L384.1 77.4L386.1 77.5L388.1 77.6L390.1 77.7L392.1 77.9L394.1 78.0L396.1 78.1L398.1 78.3L400.1 78.4L402.1 78.6L404.1 78.7L406.1 78.9L408.1 79.0L410.0 79.2L412.0 79.4L414.0 79.7L416.0 80.1L417.9 80.6L419.8 81.2L421.7 81.9L423.5 82.7L425.3 83.5L427.1 84.5L428.8 85.5L430.5 86.6L432.1 87.8L433.7 89.0L435.3 90.2L436.9 91.4L438.6 92.4L440.4 93.3L442.1 94.3L444.0 95.1L445.9 95.7L447.8 96.0L449.8 95.8L451.8 95.3L453.6 94.6L455.5 93.9L457.4 93.2L459.3 92.6L461.2 92.0L463.1 91.4L465.0 90.8L467.0 90.4L468.9 90.1L470.9 89.8L472.9 89.7L474.9 89.5L476.9 89.4L478.9 89.4L480.9 89.3L482.9 89.3L484.9 89.2L486.9 89.1L488.9 89.1L490.9 89.0L492.9 89.0L494.9 89.0L496.9 89.0L498.9 89.0L500.9 89.0L502.9 89.0L504.9 89.1L506.9 89.1L508.9 89.1L510.9 89.1L512.9 89.1L514.9 89.2L516.9 89.2L518.9 89.3L520.9 89.3L522.9 89.4L524.9 89.5L526.9 89.6L528.9 89.7L530.9 89.8L532.9 90.0L534.9 90.2L536.9 90.4L538.9 90.6L540.8 90.9L542.8 91.2L544.8 91.6L546.7 91.9L548.7 92.3L550.7 92.7L552.6 93.1L554.6 93.5L556.5 93.9L558.5 94.4L560.4 94.9L562.4 95.4L564.3 95.9L566.2 96.5L568.1 97.0L570.0 97.6L571.9 98.3L573.8 99.0L575.7 99.7L577.5 100.4L579.3 101.3L581.1 102.2L582.9 103.2L584.6 104.2L586.3 105.2L588.0 106.3L589.7 107.3L591.4 108.3L593.2 109.3L595.0 110.2L596.8 111.1L598.6 111.9L600.4 112.8L602.2 113.6L604.0 114.4L605.9 115.2L607.7 116.0L609.5 116.8L611.4 117.6L613.2 118.3L615.1 119.0L617.0 119.7L618.9 120.4L620.8 121.0L622.7 121.7L624.6 122.3L626.5 122.9L628.4 123.6L630.3 124.2L632.2 124.8L634.1 125.3L636.0 125.8L638.0 126.2L639.9 126.7L641.9 127.1L643.8 127.6L645.7 128.2L647.6 128.8L649.5 129.4L651.4 130.2L653.2 131.0L655.0 131.9L656.7 132.9L658.4 133.9L660.1 135.0L661.8 136.1L663.4 137.2L665.0 138.4L666.6 139.6L668.2 140.9L669.7 142.1L671.2 143.4L672.7 144.7L674.2 146.1L675.7 147.4L677.1 148.8L678.6 150.2L679.9 151.7L681.3 153.1L682.6 154.6L683.9 156.1L685.2 157.7L686.4 159.3L687.6 160.8L688.8 162.4L690.0 164.0L691.2 165.6L692.5 167.2L693.7 168.8L694.9 170.4L696.1 172.0L697.2 173.6L698.4 175.2L699.6 176.8L700.8 178.5L701.9 180.1L703.1 181.7L704.2 183.4L705.3 185.0L706.5 186.7L707.6 188.4L708.6 190.0L709.7 191.7L710.8 193.4L711.8 195.1L712.9 196.8L713.9 198.5L714.9 200.3L715.9 202.0L716.8 203.8L717.7 205.6L718.6 207.3L719.5 209.1L720.4 210.9L721.2 212.7L722.1 214.6L722.9 216.4L723.8 218.2L724.6 220.0L725.4 221.8L726.2 223.7L727.0 225.5L727.8 227.3L728.6 229.2L729.4 231.0L730.2 232.8L730.9 234.7L731.7 236.5L732.5 238.4L733.2 240.2L733.9 242.1L734.7 244.0L735.4 245.8L736.2 247.7L736.9 249.5L737.6 251.4L738.4 253.2L739.1 255.1L739.9 256.9L740.7 258.8L741.4 260.6L742.2 262.5L743.0 264.3L743.7 266.2L744.5 268.1L745.2 269.9L745.9 271.8L746.6 273.6L747.3 275.5L748.0 277.4L748.7 279.3L749.3 281.2L749.9 283.1L750.6 285.0L751.2 286.9L751.8 288.8L752.4 290.7L753.0 292.6L753.5 294.5L754.1 296.4L754.7 298.4L755.2 300.3L755.7 302.2L756.3 304.1L756.8 306.1L757.3 308.0L757.8 309.9L758.4 311.9L758.9 313.8L759.4 315.7L759.9 317.7L760.4 319.6L760.9 321.5L761.4 323.5L761.9 325.4L762.4 327.3L762.9 329.3L763.4 331.2L763.9 333.2L764.4 335.1L764.9 337.0L765.4 339.0L765.9 340.9L766.4 342.8L766.9 344.8L767.4 346.7L767.9 348.6L768.4 350.6L768.9 352.5L769.5 354.4L770.0 356.4L770.6 358.3L771.1 360.2L771.7 362.1L772.3 364.0L772.8 365.9L773.4 367.9L774.0 369.8L774.7 371.7L775.3 373.6L775.9 375.5L776.5 377.4L777.2 379.3L777.8 381.2L778.4 383.1L779.0 385.0L779.7 386.9L780.3 388.8L780.9 390.7L781.5 392.6L782.0 394.5L782.6 396.4L783.2 398.3L783.7 400.3L784.2 402.2L784.7 404.1L785.1 406.1L785.6 408.0L786.0 410.0L786.4 411.9L786.8 413.9L787.2 415.9L787.6 417.8L787.9 419.8L788.3 421.8L788.6 423.7L788.9 425.7L789.2 427.7L789.5 429.7L789.8 431.6L790.1 433.6L790.4 435.6L790.7 437.6L791.0 439.6L791.3 441.5L791.5 443.5L791.8 445.5L792.1 447.5L792.3 449.5L792.6 451.5L792.9 453.4L793.1 455.4L793.4 457.4L793.6 459.4L793.9 461.4L794.1 463.4L794.4 465.3L794.7 467.3L794.9 469.3L795.2 471.3L795.4 473.3L795.6 475.3L795.9 477.2L796.1 479.2L796.4 481.2L796.6 483.2L796.8 485.2L797.1 487.2L797.3 489.2L797.5 491.1L797.7 493.1L798.0 495.1L798.2 497.1L798.4 499.1L798.6 501.1L798.9 503.1L799.1 505.1L799.3 507.0L799.5 509.0L799.7 511.0L800.0 513.0L800.2 515.0L800.4 517.0L800.6 519.0L800.9 520.9L801.1 522.9L801.2 524.0" stroke-width="1.2"/>
<path d="M151.0 56.8L152.1 58.5L153.2 60.1L154.6 61.6L156.1 62.9L157.7 64.1L159.4 65.1L161.1 66.1L162.9 67.1L164.7 67.9L166.5 68.7L168.4 69.4L170.3 70.0L172.3 70.6L174.2 71.1L176.2 71.5L178.1 71.8L180.1 72.1L182.1 72.4L184.1 72.6L186.1 72.7L188.1 72.8L190.1 72.9L192.1 72.9L194.1 73.0L196.1 73.0L198.1 73.0L200.1 73.0L202.1 73.0L204.1 72.9L206.1 72.9L208.1 72.9L210.1 72.9L212.1 72.8L214.1 72.8L216.1 72.8L218.1 72.8L220.1 72.8L222.1 72.8L224.1 72.8L226.1 72.8L228.1 72.9L230.1 72.9L232.1 72.9L234.1 72.9L236.1 73.0L238.1 73.0L240.1 73.0L242.1 73.1L244.1 73.1L246.1 73.2L248.1 73.3L250.1 73.4L252.0 73.6L254.0 73.8L256.0 74.0L258.0 74.4L259.9 75.1L261.6 76.0L263.3 77.2L264.8 78.4L266.4 79.7L267.9 80.9L269.5 82.2L271.0 83.5L272.5 84.8L274.2 85.9L276.0 86.7L277.9 87.2L279.9 87.4L281.9 87.3L283.9 86.9L285.8 86.3L287.6 85.5L289.4 84.6L291.2 83.7L293.1 83.0L294.9 82.3L296.9 81.7L298.8 81.2L300.8 80.9L302.7 80.6L304.7 80.4L306.7 80.3L308.7 80.1L310.7 80.0L312.7 79.9L314.7 79.8L316.7 79.7L318.7 79.7L320.7 79.6L322.7 79.6L324.7 79.6L326.7 79.5L328.7 79.5L330.7 79.5L332.7 79.5L334.7 79.5L336.7 79.6L338.7 79.6L340.7 79.6L342.7 79.6L344.7 79.6L346.7 79.6L348.7 79.6L350.7 79.6L352.7 79.6L354.7 79.6L356.7 79.6L358.7 79.6L360.7 79.6L362.7 79.6L364.7 79.6L366.7 79.6L368.7 79.6L370.7 79.6L372.7 79.7L374.7 79.7L376.7 79.7L378.7 79.7L380.7 79.7L382.7 79.7L384.7 79.7L386.7 79.8L388.7 79.8L390.7 79.8L392.7 79.8L394.7 79.9L396.7 79.9L398.7 79.9L400.7 79.9L402.7 80.0L404.7 80.0L406.7 80.1L408.7 80.2L410.7 80.3L412.7 80.4L414.7 80.6L416.6 81.2L418.4 82.0L420.2 82.9L421.9 84.0L423.5 85.2L425.1 86.4L426.6 87.7L428.0 89.2L429.3 90.7L430.5 92.3L431.6 93.9L432.7 95.6L433.7 97.3L434.7 99.1L435.6 100.9L436.3 102.7L437.1 104.6L437.7 106.5L438.3 108.4L439.0 110.3L439.6 112.2L440.2 114.1L440.8 116.0L441.4 117.9L442.0 119.8L442.5 121.7L443.1 123.7L443.6 125.6L444.2 127.5L444.8 129.4L445.3 131.3L446.0 133.2L446.6 135.1L447.3 137.0L448.0 138.9L448.7 140.7L449.6 142.6L450.5 144.3L451.6 146.0L453.2 146.8L454.7 145.5L455.8 143.8L456.7 142.0L457.4 140.1L458.0 138.2L458.5 136.3L459.0 134.4L459.4 132.4L459.9 130.5L460.5 128.5L461.0 126.6L461.5 124.7L461.9 122.7L462.4 120.8L462.9 118.8L463.5 116.9L464.2 115.1L465.1 113.3L466.1 111.6L467.2 109.9L468.5 108.4L469.9 106.9L471.3 105.6L472.9 104.4L474.6 103.3L476.3 102.3L478.1 101.4L480.0 100.6L481.8 99.9L483.7 99.3L485.7 98.8L487.7 98.4L489.6 98.1L491.6 97.8L493.6 97.6L495.6 97.4L497.6 97.2L499.6 97.1L501.6 96.9L503.6 96.9L505.6 96.8L507.6 96.8L509.6 96.7L511.6 96.7L513.6 96.7L515.6 96.7L517.6 96.7L519.6 96.7L521.6 96.8L523.6 96.9L525.6 97.0L527.6 97.1L529.5 97.2L531.5 97.4L533.5 97.5L535.5 97.7L537.5 97.9L539.5 98.1L541.5 98.4L543.5 98.6L545.5 98.9L547.4 99.2L549.4 99.6L551.4 100.0L553.3 100.4L555.2 100.9L557.1 101.5L559.0 102.3L560.8 103.1L562.6 104.0L564.3 105.0L566.1 106.0L567.7 107.1L569.4 108.3L571.0 109.5L572.6 110.7L574.1 112.0L575.5 113.4L577.0 114.8L578.3 116.2L579.7 117.7L581.1 119.1L582.5 120.6L583.8 122.0L585.2 123.4L586.6 124.9L587.9 126.4L589.3 127.9L590.7 129.3L592.1 130.7L593.7 132.0L595.3 133.1L597.1 134.1L598.9 135.0L600.7 135.7L602.6 136.3L604.6 136.7L606.6 136.9L608.6 136.9L610.6 136.9L612.6 136.9L614.6 136.7L616.5 136.4L618.5 136.1L620.5 135.8L622.5 135.6L624.5 135.4L626.5 135.4L628.5 135.5L630.5 135.6L632.5 135.7L634.4 136.0L636.4 136.3L638.4 136.6L640.4 137.0L642.3 137.4L644.3 137.9L646.2 138.4L648.1 139.0L650.0 139.6L651.9 140.3L653.7 141.1L655.5 141.9L657.4 142.7L659.1 143.6L660.9 144.6L662.6 145.6L664.3 146.6L666.0 147.7L667.6 148.8L669.3 150.0L670.9 151.1L672.5 152.4L674.0 153.6L675.6 154.9L677.1 156.2L678.5 157.5L680.0 158.9L681.4 160.3L682.8 161.7L684.2 163.2L685.6 164.6L686.9 166.1L688.2 167.7L689.5 169.2L690.7 170.7L692.0 172.3L693.2 173.9L694.4 175.5L695.6 177.1L696.8 178.7L697.9 180.3L699.1 182.0L700.2 183.6L701.3 185.3L702.5 186.9L703.6 188.6L704.7 190.2L705.8 191.9L706.9 193.6L707.9 195.3L709.0 197.0L710.1 198.7L711.1 200.4L712.2 202.1L713.2 203.8L714.2 205.5L715.2 207.2L716.2 209.0L717.2 210.7L718.1 212.5L719.0 214.3L719.9 216.1L720.7 217.9L721.6 219.7L722.4 221.5L723.2 223.3L724.0 225.2L724.8 227.0L725.5 228.9L726.3 230.7L727.1 232.6L727.8 234.4L728.6 236.3L729.3 238.1L730.1 240.0L730.8 241.8L731.6 243.7L732.3 245.5L733.0 247.4L733.8 249.3L734.5 251.1L735.3 253.0L736.0 254.8L736.8 256.7L737.6 258.5L738.3 260.4L739.1 262.2L739.8 264.1L740.6 265.9L741.3 267.8L742.1 269.6L742.8 271.5L743.5 273.4L744.2 275.2L744.9 277.1L745.6 279.0L746.2 280.9L746.9 282.8L747.5 284.7L748.1 286.6L748.7 288.5L749.3 290.4L749.9 292.3L750.4 294.2L751.0 296.2L751.5 298.1L752.0 300.0L752.5 302.0L753.0 303.9L753.5 305.8L754.0 307.8L754.5 309.7L755.0 311.7L755.5 313.6L755.9 315.5L756.4 317.5L756.9 319.4L757.4 321.4L757.9 323.3L758.4 325.2L758.8 327.2L759.3 329.1L759.8 331.1L760.3 333.0L760.8 334.9L761.2 336.9L761.7 338.8L762.2 340.8L762.7 342.7L763.2 344.7L763.6 346.6L764.1 348.5L764.6 350.5L765.1 352.4L765.6 354.4L766.1 356.3L766.6 358.2L767.1 360.2L767.6 362.1L768.1 364.0L768.6 366.0L769.1 367.9L769.6 369.8L770.1 371.8L770.6 373.7L771.2 375.6L771.7 377.6L772.2 379.5L772.7 381.4L773.3 383.4L773.8 385.3L774.3 387.2L774.8 389.2L775.3 391.1L775.8 393.0L776.2 395.0L776.7 396.9L777.2 398.9L777.6 400.8L778.0 402.8L778.4 404.7L778.8 406.7L779.2 408.7L779.6 410.6L779.9 412.6L780.3 414.6L780.7 416.5L781.0 418.5L781.4 420.5L781.8 422.4L782.2 424.4L782.5 426.3L782.9 428.3L783.3 430.3L783.7 432.2L784.1 434.2L784.4 436.2L784.8 438.1L785.2 440.1L785.6 442.1L786.0 444.0L786.3 446.0L786.7 447.9L787.1 449.9L787.5 451.9L787.9 453.8L788.3 455.8L788.6 457.8L789.0 459.7L789.4 461.7L789.8 463.6L790.2 465.6L790.5 467.6L790.9 469.5L791.3 471.5L791.7 473.5L792.0 475.4L792.4 477.4L792.8 479.4L793.2 481.3L793.5 483.3L793.9 485.3L794.3 487.2L794.6 489.2L795.0 491.2L795.4 493.1L795.8 495.1L796.1 497.0L796.5 499.0L796.9 501.0L797.2 502.9L797.6 504.9L798.0 506.9L798.3 508.8L798.7 510.8L799.1 512.8L799.5 514.7L799.8 516.7L800.2 518.7L800.6 520.6L800.9 522.6L801.2 524.0" stroke-width="1.4"/>
</g>
<rect x="149.8" y="40.0" width="652.8" height="528.3" fill="none" stroke="#000" stroke-width="3"/>
<g stroke="#000" stroke-width="3.3">
<line x1="149.8" y1="70.5" x2="162.8" y2="70.5"/>
<line x1="149.8" y1="121.8" x2="156.8" y2="121.8"/>
<line x1="149.8" y1="173.2" x2="162.8" y2="173.2"/>
<line x1="149.8" y1="224.5" x2="156.8" y2="224.5"/>
<line x1="149.8" y1="275.9" x2="162.8" y2="275.9"/>
<line x1="149.8" y1="327.2" x2="156.8" y2="327.2"/>
<line x1="149.8" y1="378.6" x2="162.8" y2="378.6"/>
<line x1="149.8" y1="430.0" x2="156.8" y2="430.0"/>
<line x1="149.8" y1="481.3" x2="162.8" y2="481.3"/>
<line x1="149.8" y1="532.6" x2="156.8" y2="532.6"/>
<line x1="236.8" y1="568.3" x2="236.8" y2="556.3"/>
<line x1="367.4" y1="568.3" x2="367.4" y2="556.3"/>
<line x1="498.0" y1="568.3" x2="498.0" y2="556.3"/>
<line x1="628.5" y1="568.3" x2="628.5" y2="556.3"/>
<line x1="759.1" y1="568.3" x2="759.1" y2="556.3"/>
<line x1="171.6" y1="568.3" x2="171.6" y2="562.1"/>
<line x1="302.1" y1="568.3" x2="302.1" y2="562.1"/>
<line x1="432.7" y1="568.3" x2="432.7" y2="562.1"/>
<line x1="563.2" y1="568.3" x2="563.2" y2="562.1"/>
<line x1="693.8" y1="568.3" x2="693.8" y2="562.1"/>
</g>
<g font-family="'Liberation Serif', serif" font-size="30.6" fill="#1c1c1c">
<text x="140.4" y="85.4" text-anchor="end">0</text>
<text x="140.4" y="188.1" text-anchor="end"><tspan font-size="27">−</tspan>35</text>
<text x="140.4" y="290.8" text-anchor="end"><tspan font-size="27">−</tspan>70</text>
<text x="140.4" y="393.5" text-anchor="end"><tspan font-size="27">−</tspan>105</text>
<text x="140.4" y="496.2" text-anchor="end"><tspan font-size="27">−</tspan>140</text>
<text x="237.8" y="601.6" text-anchor="middle">0.0</text>
<text x="368.4" y="601.6" text-anchor="middle">0.3</text>
<text x="499.0" y="601.6" text-anchor="middle">0.6</text>
<text x="629.5" y="601.6" text-anchor="middle">0.9</text>
<text x="760.1" y="601.6" text-anchor="middle">1.2</text>
<text x="498.6" y="645.3" text-anchor="middle" font-size="30"><tspan font-style="italic">E</tspan>/V</text>
<text transform="translate(62.9 313.8) rotate(-90)" text-anchor="middle" font-size="32.5"><tspan font-style="italic">I</tspan>/μA</text>
</g>
<line x1="728.8" y1="107.9" x2="755.5" y2="91.8" stroke="#111" stroke-width="1.7"/><polygon points="765.3,85.9 755.4,95.6 752.1,90.1" fill="#111"/>
<line x1="437.8" y1="107.9" x2="401.1" y2="130.5" stroke="#111" stroke-width="1.7"/><polygon points="391.3,136.5 401.1,126.7 404.5,132.2" fill="#111"/>
<line x1="632.0" y1="125.6" x2="632.0" y2="169.0" stroke="#111" stroke-width="1.7"/><polygon points="632.0,180.5 628.8,167.0 635.2,167.0" fill="#111"/>
<line x1="750.3" y1="246.8" x2="732.0" y2="280.2" stroke="#111" stroke-width="1.7"/><polygon points="726.5,290.3 730.2,276.9 735.8,280.0" fill="#111"/>
<g font-family="'Liberation Serif', serif" font-size="27" fill="#1c1c1c">
<text transform="translate(772.0 90.9) scale(1.18 1)">a</text>
<text transform="translate(710.0 305.5) scale(1.18 1)">b</text>
<text transform="translate(621.2 208.4) scale(1.18 1)">c</text>
<text transform="translate(373.6 161.5) scale(1.18 1)">d</text>
</g>
</svg>
<div class="cap">
<div class="ln" style="top:669.4px"><span class="s" style="left:83.3px"><i>图</i></span><span class="s" style="left:124.2px">2</span><span class="s" style="left:176.8px;letter-spacing:5.84px"><i>在含有</i></span><span class="s" style="left:284.8px;letter-spacing:-1.20px">50</span><span class="s" style="left:327.5px;letter-spacing:0.75px">μmol/L</span><span class="s" style="left:434.9px;letter-spacing:-1.20px">UA</span><span class="s" style="left:486.2px"><i>、</i></span><span class="s" style="left:497.9px;letter-spacing:-0.70px">50</span><span class="s" style="left:538.9px;letter-spacing:0.73px">μmol/L</span><span class="s" style="left:644.2px;letter-spacing:-1.20px">XA</span><span class="s" style="left:701.0px"><i>和</i></span><span class="s" style="left:741.2px;letter-spacing:1.60px">60</span></div>
<div class="ln" style="top:716.0px"><span class="s" style="left:41.4px;letter-spacing:0.91px">μmol/L</span><span class="s" style="left:149.7px;letter-spacing:-1.20px">HX</span><span class="s" style="left:204.2px"><i>的</i></span><span class="s" style="left:244.5px;letter-spacing:0.30px">0.1</span><span class="s" style="left:297.5px;letter-spacing:-0.17px">mol/L</span><span class="s" style="left:384.0px;letter-spacing:-1.20px">PBS</span><span class="s" style="left:438.4px">(</span><span class="s" style="left:450.3px;letter-spacing:1.42px">pH6.0</span><span class="s" style="left:539.8px">)</span><span class="s" style="left:557.6px;letter-spacing:5.03px"><i>溶液中不同修饰电</i></span></div>
<div class="ln" style="top:762.6px"><span class="s" style="left:48.0px;letter-spacing:4.96px"><i>极的循环伏安曲线</i></span><span class="s" style="left:318.3px">,</span><span class="s" style="left:335.0px">(</span><span class="s" style="left:349.4px">a</span><span class="s" style="left:368.5px">)</span><span class="s" style="left:383.8px;letter-spacing:4.58px"><i>裸玻碳电极</i></span><span class="s" style="left:554.9px">,</span><span class="s" style="left:570.0px">(</span><span class="s" style="left:582.8px">b</span><span class="s" style="left:603.5px">)</span><span class="s" style="left:619.5px;letter-spacing:5.39px"><i>氧化聚邻苯二</i></span></div>
<div class="ln" style="top:809.2px"><span class="s" style="left:41.1px;letter-spacing:4.94px"><i>胺修饰电极</i></span><span class="s" style="left:212.6px">,</span><span class="s" style="left:229.4px">(</span><span class="s" style="left:241.3px">c</span><span class="s" style="left:261.2px">)</span><span class="s" style="left:277.3px;letter-spacing:5.15px"><i>聚合邻苯二胺修饰电极</i></span><span class="s" style="left:617.8px">,</span><span class="s" style="left:634.5px">(</span><span class="s" style="left:647.6px">d</span><span class="s" style="left:671.4px">)</span><span class="s" style="left:684.2px"><i>金</i></span><span class="s" style="left:714.4px">/</span><span class="s" style="left:724.4px;letter-spacing:4.91px"><i>氧化聚</i></span></div>
<div class="ln" style="top:855.8px"><span class="s" style="left:300.9px;letter-spacing:4.76px"><i>邻苯二胺修饰电极</i></span></div>
</div>
</body></html>
